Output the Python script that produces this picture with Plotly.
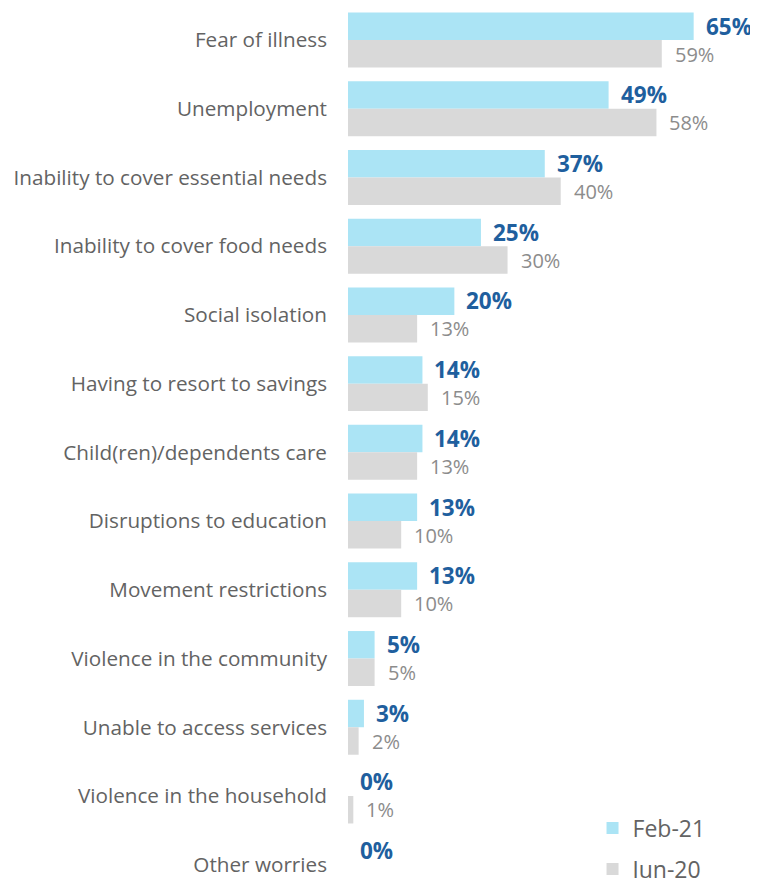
import plotly.graph_objects as go

categories = [
    "Fear of illness",
    "Unemployment",
    "Inability to cover essential needs",
    "Inability to cover food needs",
    "Social isolation",
    "Having to resort to savings",
    "Child(ren)/dependents care",
    "Disruptions to education",
    "Movement restrictions",
    "Violence in the community",
    "Unable to access services",
    "Violence in the household",
    "Other worries",
]
feb21 = [65, 49, 37, 25, 20, 14, 14, 13, 13, 5, 3, 0, 0]
jun20 = [59, 58, 40, 30, 13, 15, 13, 10, 10, 5, 2, 1, None]

BLUE = "#ABE4F5"
GRAY = "#D9D9D9"
BLUE_TXT = "#1F5F9E"
GRAY_TXT = "#8C8C8C"
LABEL = "#636363"
FONT = "Open Sans"

fig = go.Figure()
fig.add_trace(go.Bar(y=categories, x=feb21, orientation="h", name="Feb-21",
                     legendgroup="a",
                     marker=dict(color=BLUE, line=dict(width=0)), hoverinfo="skip"))
fig.add_trace(go.Bar(y=categories, x=jun20, orientation="h", name="Jun-20",
                     legendgroup="b",
                     marker=dict(color=GRAY, line=dict(width=0)), hoverinfo="skip"))

annotations = []
for c, v in zip(categories, feb21):
    if v is None:
        continue
    annotations.append(dict(x=v, y=c, xref="x", yref="y", text=f"<b>{v}%</b>",
                            showarrow=False, xanchor="left", yanchor="middle",
                            xshift=10, yshift=14,
                            font=dict(family=FONT, size=22.5, color=BLUE_TXT)))
for c, v in zip(categories, jun20):
    if v is None:
        continue
    annotations.append(dict(x=v, y=c, xref="x", yref="y", text=f"{v}%",
                            showarrow=False, xanchor="left", yanchor="middle",
                            xshift=11, yshift=-14,
                            font=dict(family=FONT, size=20, color=GRAY_TXT)))

fig.update_layout(
    width=758, height=900,
    margin=dict(l=340, r=0, t=0, b=0),
    paper_bgcolor="white", plot_bgcolor="white",
    barmode="group", bargap=0.2, bargroupgap=0,
    font=dict(family=FONT, size=20.7, color=LABEL),
    showlegend=True,
    legend=dict(x=0.585, y=0.1126, xanchor="left", yanchor="top",
                font=dict(family=FONT, size=23, color=LABEL),
                bgcolor="rgba(0,0,0,0)", traceorder="grouped",
                tracegroupgap=8),
    annotations=annotations,
)
fig.update_xaxes(range=[0, 78.6], visible=False, showgrid=False, zeroline=False)
fig.update_yaxes(categoryorder="array", categoryarray=categories,
                 range=[12.63, -0.4656], showgrid=False, zeroline=False,
                 showline=False, ticks="", ticklabelstandoff=20,
                 tickfont=dict(family=FONT, size=20.7, color=LABEL))

fig.write_html("out.html")
